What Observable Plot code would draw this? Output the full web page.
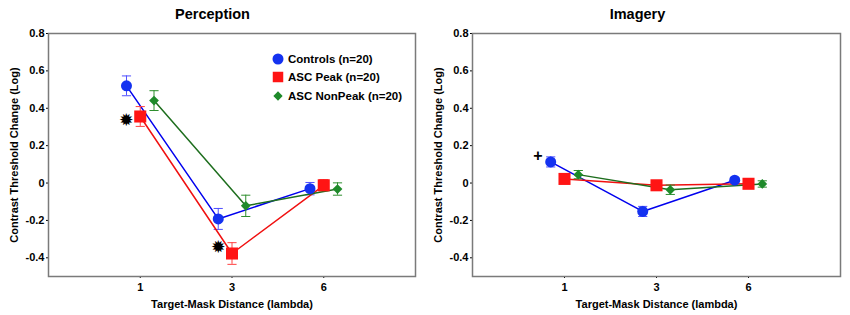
<!DOCTYPE html>
<html>
<head>
<meta charset="utf-8">
<script src="https://cdn.jsdelivr.net/npm/d3@7"></script>
<script src="https://cdn.jsdelivr.net/npm/@observablehq/plot@0.6"></script>
<style>
  body { margin: 0; background: #fff; }
  #wrap { position: relative; width: 850px; height: 315px; display: flex; font-family: "Liberation Sans", Arial, sans-serif; }
  .panel { position: relative; width: 425px; height: 315px; }
  .title { position: absolute; top: 6px; left: 0; width: 425px; text-align: center; font-weight: bold; font-size: 14.5px; color: #000; }
  .legend { position: absolute; left: 271px; top: 50px; font-weight: bold; font-size: 11.5px; color: #000; }
  .legend div { display: flex; align-items: center; height: 18.3px; }
  .legend svg { margin-right: 3px; }
</style>
</head>
<body>
<div id="wrap"></div>
<script>
// ---- data ----
const distances = ["1", "3", "6"];
const groups = ["Controls (n=20)", "ASC Peak (n=20)", "ASC NonPeak (n=20)"];

const percControls = [0.52, -0.192, -0.03];
const percControlsErr = [0.053, 0.056, 0.033];
const percPeak = [0.356, -0.377, -0.012];
const percPeakErr = [0.053, 0.058, 0.03];
const percNonPeak = [0.441, -0.122, -0.032];
const percNonPeakErr = [0.053, 0.057, 0.033];

const imagControls = [0.113, -0.152, 0.015];
const imagControlsErr = [0.027, 0.027, 0.015];
const imagPeak = [0.022, -0.012, -0.004];
const imagPeakErr = [0.015, 0.025, 0.01];
const imagNonPeak = [0.045, -0.036, -0.005];
const imagNonPeakErr = [0.022, 0.025, 0.017];

// significance markers: [distance index, group index, value]
const percStars = [[0, 0, 0.334], [1, 0, -0.343]];
const imagPlus = [[0, -0.29, 0.145]];

const yTicks = [-0.4, -0.2, 0, 0.2, 0.4, 0.6, 0.8];

// ---- styling ----
const markerColors = ["#1432f0", "#ff1414", "#1e8a2a"];
const lineColors = ["#0000ee", "#f01010", "#1e6e1e"];
const errColors = ["#5050ff", "#ff4040", "#2e8e2e"];
const symbols = ["circle", "square", "diamond2"];
const radii = [5.5, 6.8, 4.4];
const offsets = [-0.15, 0, 0.15];
const capHalf = 0.05;

function rows(series) {
  const out = [];
  series.forEach(([vals, errs], g) => {
    vals.forEach((v, i) => {
      out.push({g, x: i + 1 + offsets[g], y: v, lo: v - errs[i], hi: v + errs[i]});
    });
  });
  return out;
}

const percRows = rows([[percControls, percControlsErr], [percPeak, percPeakErr], [percNonPeak, percNonPeakErr]]);
const imagRows = rows([[imagControls, imagControlsErr], [imagPeak, imagPeakErr], [imagNonPeak, imagNonPeakErr]]);

function chart(data, extra, marginLeft) {
  const marks = [Plot.frame({stroke: "#7a7a7a", strokeWidth: 1.5})];
  for (let g = 0; g < 3; g++) {
    const d = data.filter(r => r.g === g);
    marks.push(Plot.line(d, {x: "x", y: "y", stroke: lineColors[g], strokeWidth: 1.5}));
    marks.push(Plot.ruleX(d, {x: "x", y1: "lo", y2: "hi", stroke: errColors[g], strokeWidth: 1}));
    marks.push(Plot.link(d, {x1: r => r.x - capHalf, x2: r => r.x + capHalf, y1: "hi", y2: "hi", stroke: errColors[g], strokeWidth: 1}));
    marks.push(Plot.link(d, {x1: r => r.x - capHalf, x2: r => r.x + capHalf, y1: "lo", y2: "lo", stroke: errColors[g], strokeWidth: 1}));
  }
  for (let g = 0; g < 3; g++) {
    const d = data.filter(r => r.g === g);
    marks.push(Plot.dot(d, {x: "x", y: "y", symbol: () => symbols[g], r: radii[g], fill: markerColors[g], stroke: "none"}));
  }
  marks.push(...extra);
  return Plot.plot({
    width: 425,
    height: 315,
    marginTop: 33,
    marginBottom: 39,
    marginLeft,
    marginRight: 10,
    style: {fontFamily: "Liberation Sans, Arial, sans-serif", fontSize: "11px", fontWeight: "bold", color: "#000", background: "#fff"},
    symbol: {type: "identity"},
    x: {type: "linear", domain: [0, 4], ticks: [1, 2, 3], tickFormat: d => distances[d - 1], tickSize: 2, tickPadding: 5,
        label: "Target-Mask Distance (lambda)", labelAnchor: "center", labelOffset: 31, labelArrow: "none"},
    y: {domain: [-0.5, 0.8], ticks: yTicks, tickFormat: d => d === 0 ? "0" : String(d), tickSize: 2, tickPadding: 2,
        label: "Contrast Threshold Change (Log)", labelAnchor: "center", labelOffset: 38, labelArrow: "none"},
    marks
  });
}

const starMarks = [Plot.text(percStars, {x: d => d[0] + 1 + offsets[d[1]] + 0.005, y: d => d[2], text: () => "✹", fontSize: 15, fill: "#000"})];
const plusMarks = [Plot.text(imagPlus, {x: d => d[0] + 1 + d[1], y: d => d[2], text: () => "+", fontSize: 16, fontWeight: "bold", fill: "#000"})];

const wrap = document.getElementById("wrap");

function panel(title, svg, withLegend) {
  const p = document.createElement("div");
  p.className = "panel";
  p.appendChild(svg);
  const t = document.createElement("div");
  t.className = "title";
  t.textContent = title;
  p.appendChild(t);
  if (withLegend) {
    const lg = document.createElement("div");
    lg.className = "legend";
    groups.forEach((name, g) => {
      const row = document.createElement("div");
      const s = d3.create("svg").attr("width", 14).attr("height", 14);
      s.append("path")
        .attr("transform", "translate(7,7)")
        .attr("d", d3.symbol(g === 0 ? d3.symbolCircle : g === 1 ? d3.symbolSquare : d3.symbolDiamond2, g === 0 ? 95 : g === 1 ? 110 : 55)())
        .attr("fill", markerColors[g]);
      row.appendChild(s.node());
      const span = document.createElement("span");
      span.textContent = name;
      row.appendChild(span);
      lg.appendChild(row);
    });
    p.appendChild(lg);
  }
  wrap.appendChild(p);
}

panel("Perception", chart(percRows, starMarks, 48), true);
panel("Imagery", chart(imagRows, plusMarks, 47), false);
</script>
</body>
</html>
